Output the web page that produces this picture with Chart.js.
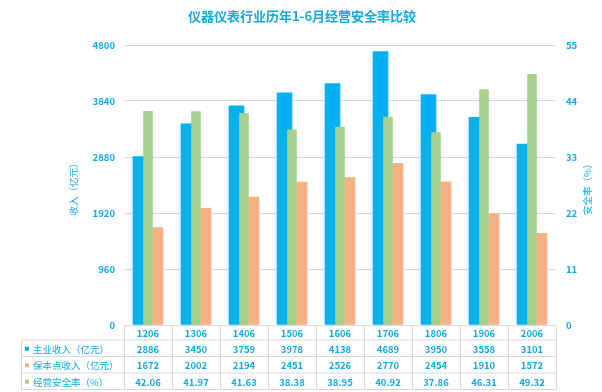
<!DOCTYPE html>
<html>
<head>
<meta charset="utf-8">
<script src="https://cdn.jsdelivr.net/npm/chart.js@4.4.0/dist/chart.umd.min.js"></script>
<style>
  html, body { margin: 0; padding: 0; background: #fff; }
  #wrap { width: 602px; height: 392px; position: relative; }
</style>
</head>
<body>
<div id="wrap"><canvas id="chart1"></canvas></div>
<script>
// data
var categories = ['1206', '1306', '1406', '1506', '1606', '1706', '1806', '1906', '2006'];
var mainIncome = [2886, 3450, 3759, 3978, 4138, 4689, 3950, 3558, 3101];
var breakEvenIncome = [1672, 2002, 2194, 2451, 2526, 2770, 2454, 1910, 1572];
var safetyRate = [42.06, 41.97, 41.63, 38.38, 38.95, 40.92, 37.86, 46.31, 49.32];
var safetyRateLabels = ['42.06', '41.97', '41.63', '38.38', '38.95', '40.92', '37.86', '46.31', '49.32'];
var leftTicks = [0, 960, 1920, 2880, 3840, 4800];
var rightTicks = [0, 11, 22, 33, 44, 55];

var blue = '#00B0F0';
var orange = '#F4B183';
var green = '#A9D18E';
var textBlue = '#12A8E6';
var gridGrey = '#D9D9D9';
var cjk = '"Noto Sans CJK SC", "Noto Sans", sans-serif';

// title, axis titles and the data table under the plot
var tablePlugin = {
  id: 'tablePlugin',
  afterDraw: function(chart) {
    var c = chart.ctx;
    var area = chart.chartArea;
    var x = chart.scales.x;
    var half = (area.right - area.left) / categories.length / 2;

    c.save();
    c.fillStyle = textBlue;
    c.textAlign = 'center';
    c.textBaseline = 'middle';
    c.font = 'bold 13px ' + cjk;
    c.fillText('仪器仪表行业历年1-6月经营安全率比较', 302, 16);

    c.font = '9.5px ' + cjk;
    c.save();
    c.translate(73, (area.top + area.bottom) / 2 + 2);
    c.rotate(-Math.PI / 2);
    c.fillText('收入（亿元）', 0, 0);
    c.restore();
    c.save();
    c.translate(587, (area.top + area.bottom) / 2 + 2);
    c.rotate(-Math.PI / 2);
    c.fillText('安全率（%）', 0, 0);
    c.restore();

    // table
    var top = Math.round(area.bottom) + 0.5;
    var rows = [top, top + 14.5, top + 31, top + 47.5, top + 64];
    var legendLeft = 21.5;
    c.strokeStyle = gridGrey;
    c.lineWidth = 1;
    c.beginPath();
    for (var r = 1; r < rows.length; r++) {
      c.moveTo(legendLeft, rows[r]);
      c.lineTo(area.right, rows[r]);
    }
    c.moveTo(legendLeft, rows[1]);
    c.lineTo(legendLeft, rows[4]);
    for (var i = 0; i <= categories.length; i++) {
      var vx = Math.round(area.left + i * half * 2) + 0.5;
      c.moveTo(vx, rows[0]);
      c.lineTo(vx, rows[4]);
    }
    c.stroke();

    var rowData = [
      { name: '主业收入（亿元）', color: blue, vals: mainIncome },
      { name: '保本点收入（亿元）', color: orange, vals: breakEvenIncome },
      { name: '经营安全率（%）', color: green, vals: safetyRateLabels }
    ];

    c.font = 'bold 9.5px ' + cjk;
    categories.forEach(function(cat, i) {
      c.fillText(cat, x.getPixelForTick(i), (rows[0] + rows[1]) / 2 + 1);
    });
    rowData.forEach(function(row, r) {
      var cy = (rows[r + 1] + rows[r + 2]) / 2 + 1;
      c.font = 'bold 9.5px ' + cjk;
      c.textAlign = 'center';
      c.fillStyle = textBlue;
      row.vals.forEach(function(v, i) {
        c.fillText(String(v), x.getPixelForTick(i), cy);
      });
      c.fillStyle = row.color;
      c.fillRect(25, cy - 2.5, 4, 4);
      c.fillStyle = textBlue;
      c.textAlign = 'left';
      c.font = '9.5px ' + cjk;
      c.fillText(row.name, 33, cy);
    });
    c.restore();
  }
};

var ctx = document.getElementById('chart1').getContext('2d');

var myChart = new Chart(ctx, {
  type: 'bar',
  data: {
    labels: categories,
    datasets: [{
      label: '主业收入（亿元）',
      data: mainIncome,
      backgroundColor: blue,
      barThickness: 15,
      yAxisID: 'y',
      order: 1
    }, {
      label: '保本点收入（亿元）',
      data: breakEvenIncome,
      backgroundColor: orange,
      barThickness: 15,
      yAxisID: 'y',
      order: 1
    }, {
      label: '经营安全率（%）',
      data: safetyRate,
      backgroundColor: green,
      grouped: false,
      barPercentage: 0.25,
      yAxisID: 'y1',
      order: 0
    }]
  },
  options: {
    responsive: true,
    maintainAspectRatio: false,
    animation: false,
    layout: {
      padding: { top: 45, bottom: 67, left: 0, right: 0 }
    },
    plugins: {
      legend: { display: false },
      title: { display: false },
      tooltip: { enabled: false }
    },
    scales: {
      x: {
        display: false
      },
      y: {
        position: 'left',
        min: 0,
        max: 4800,
        afterFit: function(s) { s.width = 124; },
        afterBuildTicks: function(s) { s.ticks = leftTicks.map(function(v) { return { value: v }; }); },
        border: { display: false },
        grid: { color: gridGrey, drawTicks: false },
        ticks: {
          padding: 9,
          color: textBlue,
          font: { family: cjk, size: 9.5, weight: 'bold' },
          callback: function(v) { return String(v); }
        }
      },
      y1: {
        position: 'right',
        min: 0,
        max: 55,
        afterFit: function(s) { s.width = 46; },
        afterBuildTicks: function(s) { s.ticks = rightTicks.map(function(v) { return { value: v }; }); },
        border: { display: false },
        grid: { display: false, drawTicks: false },
        ticks: {
          padding: 10,
          color: textBlue,
          font: { family: cjk, size: 9.5, weight: 'bold' },
          callback: function(v) { return String(v); }
        }
      }
    }
  },
  plugins: [tablePlugin]
});
</script>
</body>
</html>
